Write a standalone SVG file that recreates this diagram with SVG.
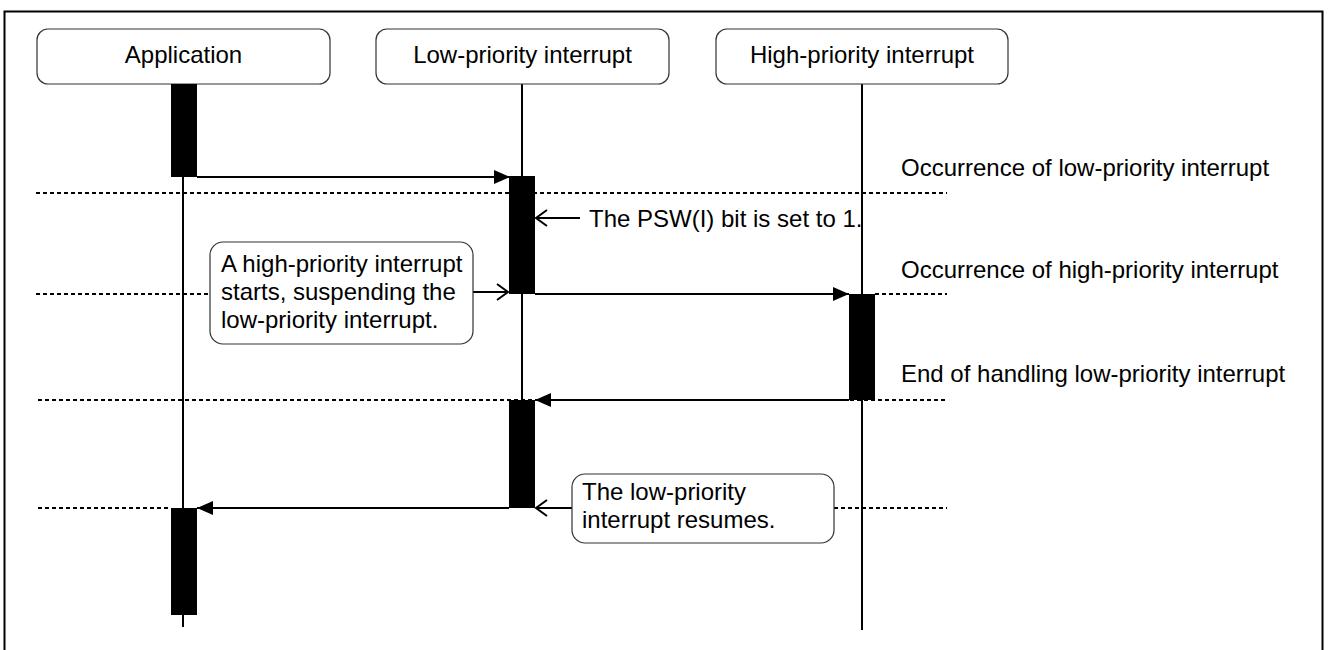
<svg xmlns="http://www.w3.org/2000/svg" width="1330" height="650" viewBox="0 0 1330 650">
<style>
text{font-family:"Liberation Sans",Arial,sans-serif;font-size:24px;fill:#000}
.box{fill:#fff;stroke:#333;stroke-width:1.2}
.life{stroke:#000;stroke-width:2;fill:none}
.bar{fill:#000}
.msg{stroke:#000;stroke-width:2;fill:none}
.dash{stroke:#000;stroke-width:2;stroke-dasharray:4 3;fill:none}
</style>
<defs>
<marker id="fill" markerUnits="userSpaceOnUse" markerWidth="16" markerHeight="14" refX="16" refY="7" orient="auto">
<path d="M0,0 L16,7 L0,14 z" fill="#000"/>
</marker>
<marker id="open" markerUnits="userSpaceOnUse" markerWidth="14" markerHeight="18" refX="12" refY="9" orient="auto">
<path d="M1,1 L12,9 L1,17" fill="none" stroke="#000" stroke-width="2"/>
</marker>
</defs>
<rect x="4.5" y="11.5" width="1318" height="645" fill="#fff" stroke="#000" stroke-width="2"/>
<g id="guides">
<line class="dash" x1="36" y1="193" x2="947" y2="193"/>
<line class="dash" x1="36" y1="294" x2="210" y2="294"/>
<line class="dash" x1="875" y1="294" x2="947" y2="294"/>
<line class="dash" x1="38" y1="400" x2="947" y2="400"/>
<line class="dash" x1="38" y1="508" x2="171" y2="508"/>
<line class="dash" x1="834" y1="508" x2="947" y2="508"/>
</g>
<g id="lifelines">
<line class="life" x1="183" y1="84" x2="183" y2="627"/>
<line class="life" x1="522" y1="84" x2="522" y2="508"/>
<line class="life" x1="862" y1="84" x2="862" y2="630"/>
</g>
<g id="app">
<rect class="box" x="37" y="29" width="293" height="55" rx="11"/>
<text x="183.5" y="63" text-anchor="middle">Application</text>
</g>
<g id="low">
<rect class="box" x="376" y="29" width="293" height="55" rx="11"/>
<text x="522.5" y="63" text-anchor="middle">Low-priority interrupt</text>
</g>
<g id="high">
<rect class="box" x="716" y="29" width="292" height="55" rx="11"/>
<text x="862" y="63" text-anchor="middle">High-priority interrupt</text>
</g>
<g id="bars">
<rect class="bar" x="171" y="84" width="26" height="93"/>
<rect class="bar" x="509" y="176" width="26" height="118"/>
<rect class="bar" x="849" y="294" width="26" height="106"/>
<rect class="bar" x="509" y="400" width="26" height="108"/>
<rect class="bar" x="171" y="508" width="26" height="107"/>
</g>
<g id="connectors">
<line class="msg" x1="197" y1="177" x2="510" y2="177" marker-end="url(#fill)"/>
<line class="msg" x1="535" y1="294" x2="849" y2="294" marker-end="url(#fill)"/>
<line class="msg" x1="849" y1="400" x2="535" y2="400" marker-end="url(#fill)"/>
<line class="msg" x1="509" y1="508" x2="197" y2="508" marker-end="url(#fill)"/>
<line class="msg" x1="580" y1="218" x2="536" y2="218" marker-end="url(#open)"/>
<line class="msg" x1="473" y1="292" x2="508" y2="292" marker-end="url(#open)"/>
<line class="msg" x1="572" y1="508" x2="536" y2="508" marker-end="url(#open)"/>
</g>
<g id="note-psw">
<text x="589" y="227">The PSW(I) bit is set to 1.</text>
</g>
<g id="note-suspend">
<rect class="box" x="210" y="242" width="263" height="102" rx="13"/>
<text x="221" y="272">A high-priority interrupt</text>
<text x="221" y="300">starts, suspending the</text>
<text x="221" y="328">low-priority interrupt.</text>
</g>
<g id="note-resume">
<rect class="box" x="572" y="474" width="262" height="69" rx="13"/>
<text x="582" y="500">The low-priority</text>
<text x="582" y="528">interrupt resumes.</text>
</g>
<g id="labels">
<text x="901" y="176">Occurrence of low-priority interrupt</text>
<text x="901" y="278">Occurrence of high-priority interrupt</text>
<text x="901" y="382">End of handling low-priority interrupt</text>
</g>
</svg>
